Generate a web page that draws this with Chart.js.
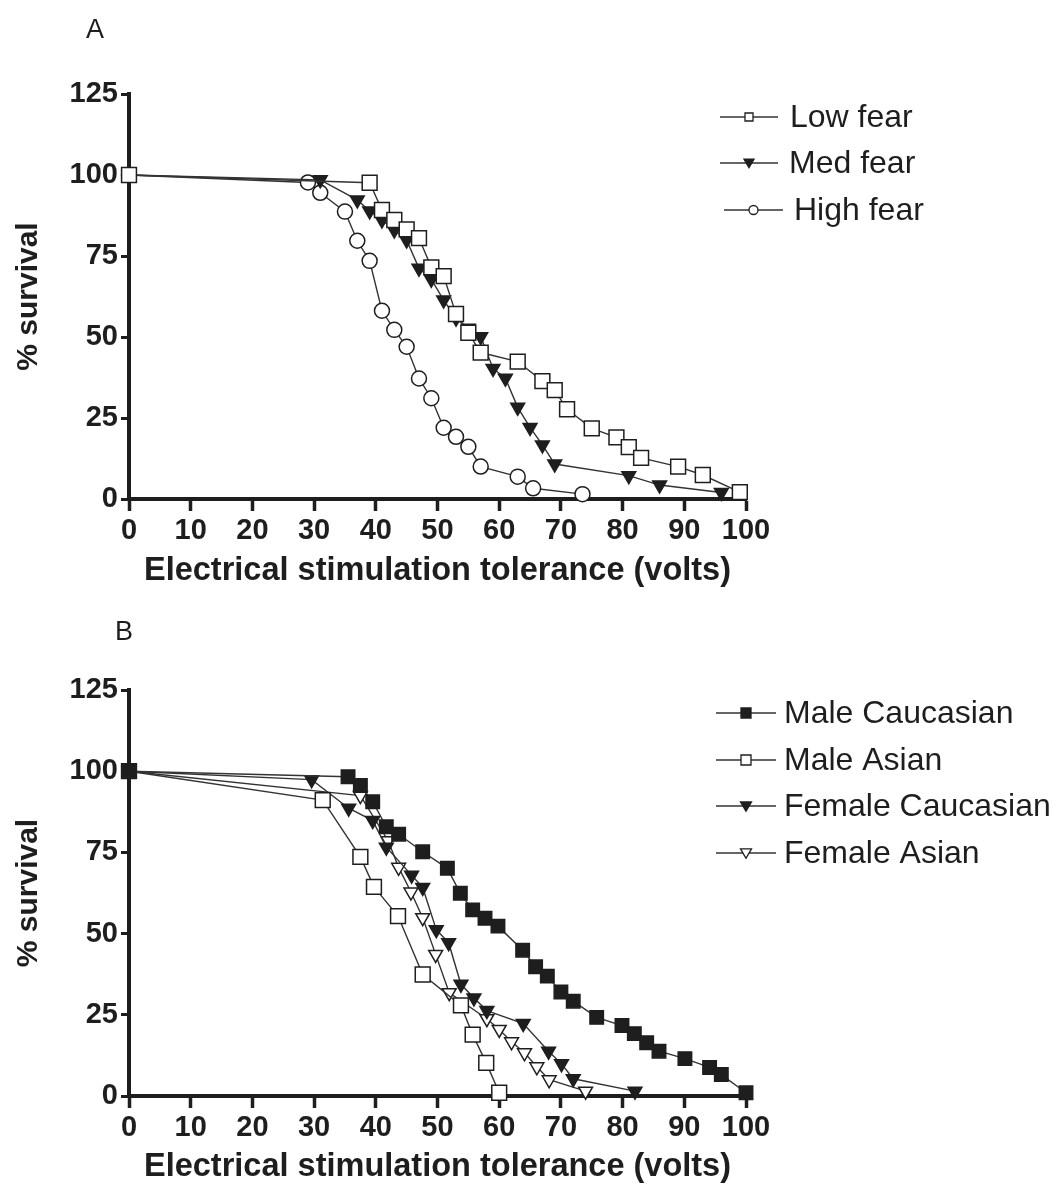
<!DOCTYPE html>
<html>
<head>
<meta charset="utf-8">
<script src="https://cdn.jsdelivr.net/npm/chart.js@4.4.1/dist/chart.umd.min.js"></script>
<style>
  html, body { margin: 0; padding: 0; background: #fff; }
  #wrap { position: relative; width: 1064px; height: 1192px; }
  .panel { position: absolute; left: 0; width: 1064px; height: 596px; }
</style>
</head>
<body>
<div id="wrap">
  <div class="panel" style="top:0"><canvas id="chartA" width="1064" height="596"></canvas></div>
  <div class="panel" style="top:596px"><canvas id="chartB" width="1064" height="596"></canvas></div>
</div>
<script>
// ---- Panel A: survival by fear level ----
const lowFearX  = [0, 39, 41, 43, 45, 47, 49, 51, 53, 55, 57, 63, 67, 69, 71, 75, 79, 81, 83, 89, 93, 99];
const lowFearY  = [100, 97.6, 89.2, 86.1, 83.2, 80.5, 71.5, 68.8, 57.1, 51.3, 45.2, 42.4, 36.4, 33.6, 27.7, 21.8, 19.0, 16.0, 12.7, 10.0, 7.4, 2.1];
const medFearX  = [0, 31, 37, 39, 41, 43, 45, 47, 49, 51, 53, 55, 57, 59, 61, 63, 65, 67, 69, 81, 86, 96];
const medFearY  = [100, 98.5, 92.3, 88.9, 86.1, 83.0, 79.9, 71.2, 67.8, 61.4, 55.8, 52.7, 50.1, 40.3, 37.3, 28.3, 22.1, 16.7, 10.8, 7.2, 4.3, 2.0];
const highFearX = [0, 29, 31, 35, 37, 39, 41, 43, 45, 47, 49, 51, 53, 55, 57, 63, 65.5, 73.5];
const highFearY = [100, 97.7, 94.5, 88.7, 79.7, 73.5, 58.1, 52.2, 47.0, 37.2, 31.1, 22.0, 19.2, 16.1, 10.0, 6.9, 3.3, 1.5];

// ---- Panel B: survival by sex and ethnicity ----
const maleCaucX = [0, 35.5, 37.5, 39.5, 41.7, 43.7, 47.6, 51.6, 53.7, 55.7, 57.7, 59.8, 63.8, 65.9, 67.8, 70, 72, 75.8, 79.9, 81.9, 83.9, 85.9, 90.1, 94.1, 96, 100];
const maleCaucY = [100, 98.3, 95.6, 90.6, 82.9, 80.6, 75.2, 70.1, 62.4, 57.3, 54.7, 52.3, 44.9, 39.8, 36.9, 32.0, 29.2, 24.2, 21.7, 19.2, 16.4, 13.8, 11.5, 8.8, 6.6, 1.0];
const maleAsianX = [0, 31.4, 37.5, 39.7, 43.6, 47.6, 53.8, 55.7, 57.9, 60];
const maleAsianY = [100, 91.1, 73.6, 64.4, 55.4, 37.4, 27.9, 18.9, 10.2, 1.0];
const femCaucX = [0, 29.6, 35.6, 39.5, 41.7, 45.8, 47.6, 49.8, 51.8, 53.8, 55.9, 58, 63.9, 68, 70.1, 72, 82];
const femCaucY = [100, 97.4, 88.6, 84.8, 76.6, 68.0, 64.2, 51.2, 47.2, 34.4, 30.2, 26.3, 22.3, 13.8, 9.9, 5.3, 1.5];
const femAsianX = [0, 37.5, 42, 43.7, 45.7, 47.6, 49.7, 51.9, 58, 60, 62, 64.1, 66.1, 68.1, 74];
const femAsianY = [100, 92.5, 78.6, 70.4, 62.8, 54.9, 43.6, 31.8, 23.8, 20.5, 16.7, 13.3, 9.0, 5.0, 1.5];

// ---- Axis ticks ----
const yTicks = [0, 25, 50, 75, 100, 125];
const xTicks = [0, 10, 20, 30, 40, 50, 60, 70, 80, 90, 100];

const xTitle = 'Electrical stimulation tolerance (volts)';
const yTitle = '% survival';

const INK = '#1e1e1e';
const LINE = '#333';
const BOLD = "'Liberation Sans', Arial, Helvetica, sans-serif";

function pts(xs, ys) { return xs.map((x, i) => ({ x: x, y: ys[i] })); }

function series(label, xs, ys, style, filled, radius, rotation) {
  return {
    label: label,
    data: pts(xs, ys),
    showLine: true,
    borderColor: LINE,
    borderWidth: 1.4,
    pointStyle: style,
    pointRotation: rotation || 0,
    pointRadius: radius,
    pointHoverRadius: radius,
    pointBorderColor: INK,
    pointBorderWidth: 1.5,
    pointBackgroundColor: filled ? INK : '#fff',
    clip: false,
    tension: 0
  };
}

// marker drawn in the side legend
function drawMarker(ctx, style, filled, r, x, y) {
  ctx.save();
  ctx.fillStyle = filled ? INK : '#fff';
  ctx.strokeStyle = INK;
  ctx.lineWidth = 1.3;
  ctx.beginPath();
  if (style === 'rect') {
    ctx.rect(x - r, y - r, 2 * r, 2 * r);
  } else if (style === 'circle') {
    ctx.arc(x, y, r, 0, Math.PI * 2);
  } else if (style === 'triangle') {
    // downward-pointing triangle
    ctx.moveTo(x - r, y - r * 0.75);
    ctx.lineTo(x + r, y - r * 0.75);
    ctx.lineTo(x, y + r * 0.95);
    ctx.closePath();
  }
  ctx.fill();
  ctx.stroke();
  ctx.restore();
}

const sideLegend = {
  id: 'sideLegend',
  afterDraw(chart, args, opts) {
    const ctx = chart.ctx;
    ctx.save();
    // panel letter
    ctx.fillStyle = INK;
    ctx.font = "27px 'Liberation Sans', Arial, sans-serif";
    ctx.textBaseline = 'middle';
    ctx.textAlign = 'left';
    ctx.fillText(opts.letter, opts.letterX, opts.letterY);
    // legend entries
    opts.items.forEach(it => {
      ctx.strokeStyle = LINE;
      ctx.lineWidth = 1.4;
      ctx.beginPath();
      ctx.moveTo(it.x0, it.y);
      ctx.lineTo(it.x1, it.y);
      ctx.stroke();
      drawMarker(ctx, it.style, it.filled, it.r, (it.x0 + it.x1) / 2, it.y);
      ctx.fillStyle = INK;
      ctx.font = "32px 'Liberation Sans', Arial, sans-serif";
      ctx.textBaseline = 'middle';
      ctx.fillText(it.text, it.tx, it.y + 1);
    });
    ctx.restore();
  }
};

function makeOptions(xHeight, legendOpts) {
  return {
    responsive: false,
    animation: false,
    events: [],
    layout: { padding: { left: 0, top: 94, right: 318, bottom: 0 } },
    plugins: {
      legend: { display: false },
      tooltip: { enabled: false },
      sideLegend: legendOpts
    },
    scales: {
      x: {
        type: 'linear',
        min: 0, max: 100,
        afterFit(scale) { scale.height = xHeight; },
        afterBuildTicks(scale) { scale.ticks = xTicks.map(v => ({ value: v })); },
        border: { display: true, color: INK, width: 4 },
        grid: { display: true, drawOnChartArea: false, drawTicks: true, tickLength: 12, tickWidth: 3.5, tickColor: INK },
        ticks: { color: INK, padding: 3, maxRotation: 0, font: { family: BOLD, size: 29, weight: 'bold' } },
        title: { display: true, text: xTitle, color: INK, padding: { top: 0, bottom: 5 },
                 font: { family: BOLD, size: 32.5, weight: 'bold' } }
      },
      y: {
        type: 'linear',
        min: 0, max: 125,
        afterFit(scale) { scale.width = 129; },
        afterBuildTicks(scale) { scale.ticks = yTicks.map(v => ({ value: v })); },
        border: { display: true, color: INK, width: 4 },
        grid: { display: true, drawOnChartArea: false, drawTicks: true, tickLength: 8, tickWidth: 3, tickColor: INK },
        ticks: { color: INK, padding: 3, font: { family: BOLD, size: 29, weight: 'bold' } },
        title: { display: true, text: yTitle, color: INK, padding: { top: 11, bottom: 0 },
                 font: { family: BOLD, size: 30, weight: 'bold' } }
      }
    }
  };
}

new Chart(document.getElementById('chartA'), {
  type: 'scatter',
  data: {
    datasets: [
      series('Low fear', lowFearX, lowFearY, 'rect', false, 10.5),
      series('Med fear', medFearX, medFearY, 'triangle', true, 8, 180),
      series('High fear', highFearX, highFearY, 'circle', false, 7.5)
    ]
  },
  options: makeOptions(97, {
    letter: 'A', letterX: 86, letterY: 31,
    items: [
      { text: 'Low fear',  style: 'rect',     filled: false, r: 4,   x0: 720, x1: 778, y: 117, tx: 790 },
      { text: 'Med fear',  style: 'triangle', filled: true,  r: 5,   x0: 720, x1: 778, y: 163, tx: 789 },
      { text: 'High fear', style: 'circle',   filled: false, r: 4.5, x0: 724, x1: 783, y: 210, tx: 794 }
    ]
  }),
  plugins: [sideLegend]
});

new Chart(document.getElementById('chartB'), {
  type: 'scatter',
  data: {
    datasets: [
      series('Male Caucasian', maleCaucX, maleCaucY, 'rect', true, 9.5),
      series('Male Asian', maleAsianX, maleAsianY, 'rect', false, 10.5),
      series('Female Caucasian', femCaucX, femCaucY, 'triangle', true, 8, 180),
      series('Female Asian', femAsianX, femAsianY, 'triangle', false, 8, 180)
    ]
  },
  options: makeOptions(96, {
    letter: 'B', letterX: 115, letterY: 37,
    items: [
      { text: 'Male Caucasian',   style: 'rect',     filled: true,  r: 5,   x0: 716, x1: 776, y: 117, tx: 784 },
      { text: 'Male Asian',       style: 'rect',     filled: false, r: 5,   x0: 716, x1: 776, y: 164, tx: 784 },
      { text: 'Female Caucasian', style: 'triangle', filled: true,  r: 5.5, x0: 716, x1: 776, y: 210, tx: 784 },
      { text: 'Female Asian',     style: 'triangle', filled: false, r: 5.5, x0: 716, x1: 776, y: 257, tx: 784 }
    ]
  }),
  plugins: [sideLegend]
});
</script>
</body>
</html>
